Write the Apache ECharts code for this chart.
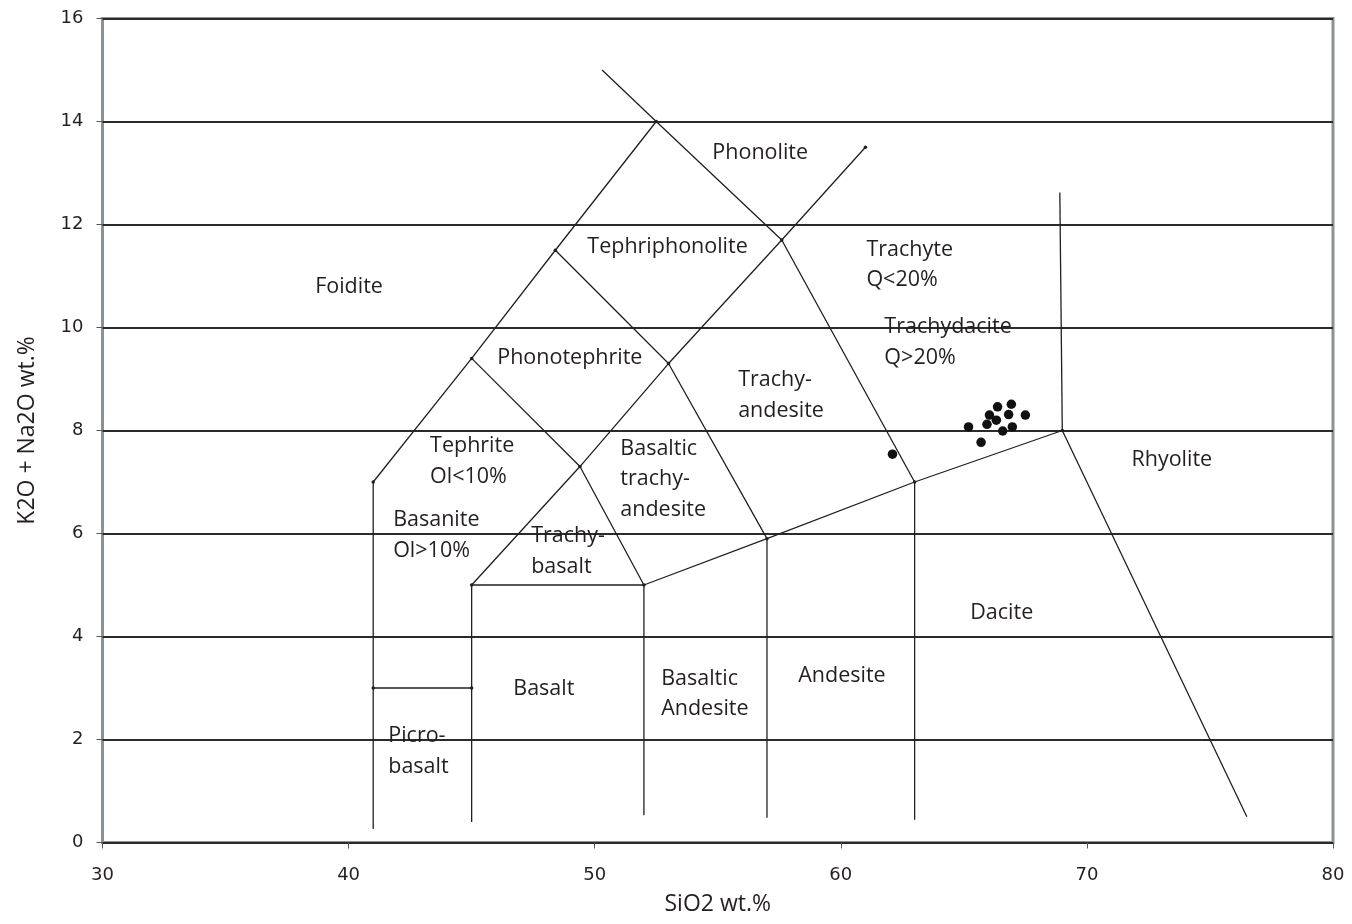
<!DOCTYPE html>
<html>
<head>
<meta charset="utf-8">
<script src="https://cdn.jsdelivr.net/npm/echarts@6/dist/echarts.min.js"></script>
<style>html,body{margin:0;padding:0;background:#fff;}#chart{width:1352px;height:924px;}</style>
</head>
<body>
<div id="chart"></div>
<script>
// Field boundary polylines [SiO2, K2O+Na2O]
const lineFoiditeLeft = [[41, 0.26], [41, 7], [45, 9.4], [48.4, 11.5], [52.5, 14]];
const linePhonolite = [[50.3, 15], [52.5, 14], [57.6, 11.7], [63, 7], [63, 0.44]];
const lineTrachyTop = [[45, 0.4], [45, 5], [49.4, 7.3], [53, 9.3], [57.6, 11.7], [61, 13.5]];
const lineTephrite = [[45, 9.4], [49.4, 7.3], [52, 5], [52, 0.53]];
const linePhonotephrite = [[48.4, 11.5], [53, 9.3], [57, 5.9], [57, 0.48]];
const lineAlkaline = [[45, 5], [52, 5], [57, 5.9], [63, 7], [69, 8], [76.5, 0.5]];
const lineRhyolite = [[68.9, 12.62], [69, 8]];
const linePicro = [[41, 3], [45, 3]];
const vertices = [[41, 7], [45, 9.4], [48.4, 11.5], [52.5, 14], [57.6, 11.7], [61, 13.5],
  [53, 9.3], [49.4, 7.3], [45, 5], [52, 5], [57, 5.9], [63, 7], [69, 8], [41, 3], [45, 3]];

// Samples
const sampleSiO2 = [65.19, 66.37, 66.93, 66.04, 66.82, 67.50, 65.94, 66.32, 66.97, 66.58, 65.70, 62.10];
const sampleAlk  = [8.07, 8.46, 8.51, 8.30, 8.31, 8.30, 8.12, 8.20, 8.07, 7.99, 7.77, 7.54];

// Field names and where they sit
const fieldNames = ['Foidite', 'Tephriphonolite', 'Phonolite', 'Trachyte\nQ<20%', 'Trachydacite\nQ>20%',
  'Phonotephrite', 'Trachy-\nandesite', 'Tephrite\nOl<10%', 'Basaltic\ntrachy-\nandesite',
  'Basanite\nOl>10%', 'Trachy-\nbasalt', 'Rhyolite', 'Dacite', 'Basalt', 'Basaltic\nAndesite',
  'Andesite', 'Picro-\nbasalt'];
const fieldX = [38.64, 49.70, 54.78, 61.04, 61.77, 46.04, 55.83, 43.31, 51.04, 41.81, 47.42, 71.81, 65.26, 46.69, 52.70, 58.27, 41.61];
const fieldY = [10.79, 11.56, 13.40, 11.22, 9.71, 9.41, 8.68, 7.40, 7.06, 5.96, 5.65, 7.43, 4.46, 2.98, 2.89, 3.23, 1.77];

const xTicks = [30, 40, 50, 60, 70, 80];
const yTicks = [0, 2, 4, 6, 8, 10, 12, 14, 16];

const chart = echarts.init(document.getElementById('chart'));
const boundaryLines = [lineFoiditeLeft, linePhonolite, lineTrachyTop, lineTephrite, linePhonotephrite, lineAlkaline, lineRhyolite, linePicro];
const series = boundaryLines.map(d => ({
  type: 'line', data: d, showSymbol: false, symbol: 'none', silent: true,
  lineStyle: { color: '#231f20', width: 1.3 }, z: 3, animation: false
}));
series.push({
  type: 'scatter', data: vertices, symbol: 'circle', symbolSize: 3.5,
  itemStyle: { color: '#231f20', opacity: 1 }, z: 4, silent: true, animation: false
});
series.push({
  type: 'scatter', data: sampleSiO2.map((x, i) => [x, sampleAlk[i]]), symbol: 'circle', symbolSize: 9.5,
  itemStyle: { color: '#111', opacity: 1 }, z: 5, animation: false
});
series.push({
  type: 'scatter', symbolSize: 0, silent: true, animation: false, z: 6,
  itemStyle: { opacity: 1 },
  data: fieldNames.map((n, i) => ({ name: n, value: [fieldX[i], fieldY[i]] })),
  label: {
    show: true, formatter: p => p.name, position: [0, 0], align: 'left', verticalAlign: 'middle',
    fontFamily: 'Open Sans', fontSize: 21.5, color: '#231f20', lineHeight: 30.5, opacity: 1
  }
});

const tickRich = { t: { fontFamily: 'DejaVu Sans', fontSize: 18, color: '#231f20' } };

chart.setOption({
  animation: false,
  backgroundColor: '#fff',
  grid: { left: 102.5, top: 18.5, width: 1230.5, height: 824, show: true, borderColor: '#8a9298', borderWidth: 3, backgroundColor: 'transparent', containLabel: false },
  xAxis: {
    type: 'value', min: 30, max: 80, interval: 10,
    name: 'SiO2 wt.%', nameLocation: 'middle', nameGap: 50,
    nameTextStyle: { fontFamily: 'Open Sans', fontSize: 23, color: '#231f20' },
    axisLine: { show: false },
    axisTick: { show: true, length: 6, lineStyle: { color: '#555', width: 1 } },
    axisLabel: { show: true, margin: 24, fontSize: 18, rich: tickRich,
      formatter: v => xTicks.includes(v) ? '{t|' + v + '}' : '' },
    splitLine: { show: false }
  },
  yAxis: {
    type: 'value', min: 0, max: 16, interval: 2,
    name: 'K2O + Na2O wt.%', nameLocation: 'middle', nameGap: 64, nameRotate: 90,
    nameTextStyle: { fontFamily: 'Open Sans', fontSize: 23, color: '#231f20' },
    axisLine: { show: false },
    axisTick: { show: true, length: 6, lineStyle: { color: '#555', width: 1 } },
    axisLabel: { show: true, margin: 19, fontSize: 18, rich: tickRich,
      formatter: v => yTicks.includes(v) ? '{t|' + v + '}' : '' },
    splitLine: { show: true, lineStyle: { color: '#2b2b2b', width: 2 } }
  },
  series: series
});
</script>
</body>
</html>
